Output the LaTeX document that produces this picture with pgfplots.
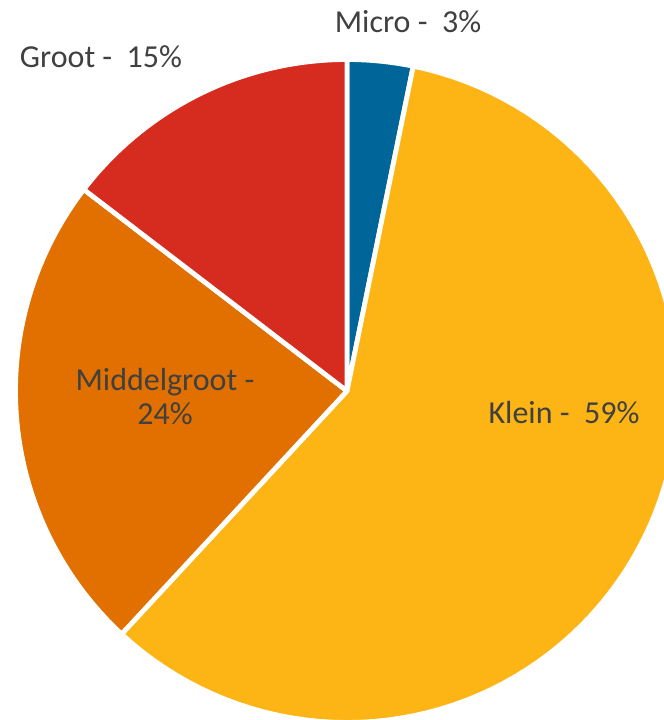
\documentclass[border=0pt]{standalone}
\usepackage{pgfplots}
\pgfplotsset{compat=1.18}
\usepackage{fontspec}
\setmainfont{Carlito}
\definecolor{cmicro}{RGB}{0,102,153}
\definecolor{cklein}{RGB}{253,181,21}
\definecolor{cmiddel}{RGB}{225,112,0}
\definecolor{cgroot}{RGB}{214,44,31}
\definecolor{ctext}{RGB}{64,64,64}

% shares in percent, clockwise from 12 o'clock
\def\vMicro{3.2}
\def\vKlein{58.7}
\def\vMiddel{23.5}
\def\vGroot{14.6}
\pgfmathsetmacro{\aA}{90}
\pgfmathsetmacro{\aB}{\aA-3.6*\vMicro}
\pgfmathsetmacro{\aC}{\aB-3.6*\vKlein}
\pgfmathsetmacro{\aD}{\aC-3.6*\vMiddel}
\pgfmathsetmacro{\aE}{\aD-3.6*\vGroot}
\def\cx{347}
\def\cy{329}
\def\rr{331.5}

\begin{document}
\begin{tikzpicture}
\begin{axis}[
    x=0.5pt, y=0.5pt,
    xmin=0, xmax=664, ymin=0, ymax=720,
    enlargelimits=false,
    axis line style={draw=none},
    ticks=none,
    every axis plot/.append style={draw=white, line width=2.4pt, line join=round, samples=90, variable=\t},
    font=\fontsize{16}{17}\selectfont,
  ]
  \addplot[fill=cmicro, domain=\aB:\aA] ({\cx+\rr*cos(t)},{\cy+\rr*sin(t)}) -- (axis cs:\cx,\cy) -- cycle;
  \addplot[fill=cklein, domain=\aC:\aB] ({\cx+\rr*cos(t)},{\cy+\rr*sin(t)}) -- (axis cs:\cx,\cy) -- cycle;
  \addplot[fill=cmiddel, domain=\aD:\aC] ({\cx+\rr*cos(t)},{\cy+\rr*sin(t)}) -- (axis cs:\cx,\cy) -- cycle;
  \addplot[fill=cgroot, domain=\aE:\aD] ({\cx+\rr*cos(t)},{\cy+\rr*sin(t)}) -- (axis cs:\cx,\cy) -- cycle;

  \node[text=ctext] at (axis cs:408,698) {Micro -\ \ 3\%};
  \node[text=ctext] at (axis cs:101,663) {Groot -\ \ 15\%};
  \node[text=ctext, align=center] at (axis cs:165,323) {Middelgroot -\\24\%};
  \node[text=ctext] at (axis cs:564,307) {Klein -\ \ 59\%};
\end{axis}
\end{tikzpicture}
\end{document}
